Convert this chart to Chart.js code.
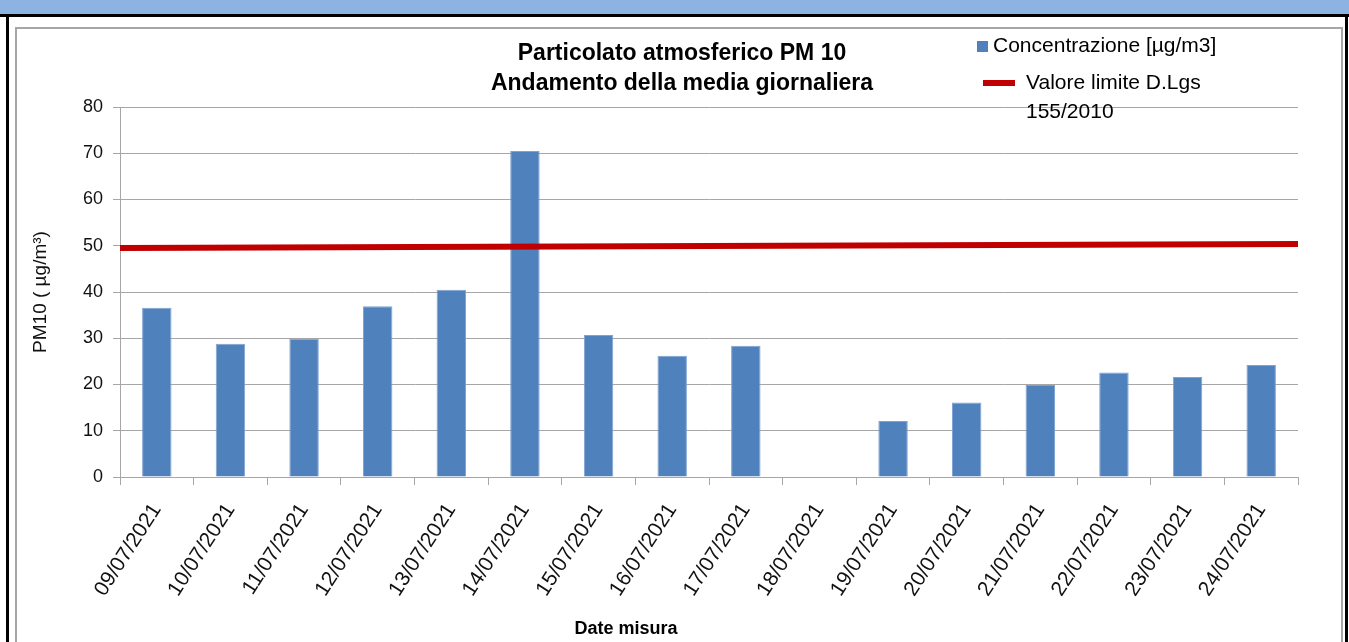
<!DOCTYPE html>
<html>
<head>
<meta charset="utf-8">
<script src="https://cdn.jsdelivr.net/npm/chart.js@4.4.1/dist/chart.umd.min.js"></script>
<style>
html, body { margin: 0; padding: 0; background: #fff; }
#frame { position: relative; width: 1349px; height: 642px; overflow: hidden; }
#topBand { position: absolute; left: 0; top: 0; width: 1349px; height: 14px; background: #8db3e2; }
#topRule { position: absolute; left: 0; top: 14px; width: 1349px; height: 3px; background: #000; }
#leftRule { position: absolute; left: 6px; top: 14px; width: 3px; height: 628px; background: #000; }
#rightRule { position: absolute; left: 1345px; top: 14px; width: 3px; height: 628px; background: #000; }
#box { position: absolute; left: 15px; top: 27px; width: 1328px; height: 640px; border: 2px solid #a6a6a6; box-sizing: border-box; }
#wrap { position: absolute; left: 0; top: 0; width: 1349px; height: 642px; }
</style>
</head>
<body>
<div id="frame">
  <div id="topBand"></div>
  <div id="topRule"></div>
  <div id="leftRule"></div>
  <div id="rightRule"></div>
  <div id="box"></div>
  <div id="wrap"><canvas id="pmChart"></canvas></div>
</div>
<script>
// data
const dates = ['09/07/2021', '10/07/2021', '11/07/2021', '12/07/2021', '13/07/2021', '14/07/2021',
  '15/07/2021', '16/07/2021', '17/07/2021', '18/07/2021', '19/07/2021', '20/07/2021',
  '21/07/2021', '22/07/2021', '23/07/2021', '24/07/2021'];
const pm10 = [36.6, 28.8, 29.9, 36.9, 40.5, 70.5, 30.7, 26.2, 28.4, null, 12.1, 16.1, 19.9, 22.6, 21.6, 24.2];
// limit line as drawn: value at the left and right edge of the plot
const limitLine = [49.5, 50.4];
const yMin = 0;
const yMax = 80;
const yStep = 10;

const seriesLabels = ['Concentrazione [µg/m3]', 'Valore limite D.Lgs 155/2010'];
const titleLines = ['Particolato atmosferico PM 10', 'Andamento della media giornaliera'];
const yTitle = 'PM10 ( µg/m³)';
const xTitle = 'Date misura';

const FONT = "'Liberation Sans', Arial, sans-serif";
const barColor = '#4f81bd';
const limitColor = '#c00000';
const gridColor = '#a6a6a6';

// title, legend and x title drawn by hand, like the original sheet
const overlay = {
  id: 'overlay',
  afterDraw(chart) {
    const ctx = chart.ctx;
    ctx.save();
    ctx.fillStyle = '#000';
    ctx.textBaseline = 'alphabetic';

    ctx.font = 'bold 23px ' + FONT;
    ctx.textAlign = 'center';
    ctx.fillText(titleLines[0], 682, 60);
    ctx.fillText(titleLines[1], 682, 90);

    ctx.font = 'bold 18px ' + FONT;
    ctx.fillText(xTitle, 626, 634);

    // legend
    ctx.textAlign = 'left';
    ctx.font = '21px ' + FONT;
    ctx.fillStyle = barColor;
    ctx.fillRect(977, 41, 11, 11);
    ctx.fillStyle = '#000';
    ctx.fillText(seriesLabels[0], 993, 52);

    ctx.strokeStyle = limitColor;
    ctx.lineWidth = 6;
    ctx.beginPath();
    ctx.moveTo(983, 83);
    ctx.lineTo(1015, 83);
    ctx.stroke();
    const words = seriesLabels[1].split(' ');
    ctx.fillText(words.slice(0, -1).join(' '), 1026, 89);
    ctx.fillText(words[words.length - 1], 1026, 118);
    ctx.restore();
  }
};

const ctx = document.getElementById('pmChart').getContext('2d');
const pmChart = new Chart(ctx, {
  type: 'bar',
  data: {
    labels: dates,
    datasets: [
      {
        type: 'line',
        label: seriesLabels[1],
        data: [{ x: 0, y: limitLine[0] }, { x: 1, y: limitLine[1] }],
        xAxisID: 'xLimit',
        borderColor: limitColor,
        borderWidth: 6,
        pointRadius: 0,
        fill: false,
        order: 0
      },
      {
        label: seriesLabels[0],
        data: pm10,
        backgroundColor: barColor,
        borderColor: '#7fa3d1',
        borderWidth: 1,
        grouped: false,
        barPercentage: 0.4,
        categoryPercentage: 1,
        order: 1
      }
    ]
  },
  options: {
    responsive: true,
    maintainAspectRatio: false,
    animation: false,
    layout: { padding: { left: 0, right: 51, top: 107, bottom: 0 } },
    plugins: {
      legend: { display: false },
      title: { display: false },
      tooltip: { enabled: false }
    },
    scales: {
      x: {
        grid: { offset: true, drawOnChartArea: false, drawTicks: true, tickLength: 8, color: gridColor },
        border: { color: gridColor },
        ticks: {
          autoSkip: false,
          minRotation: 57,
          maxRotation: 57,
          padding: 14,
          color: '#111',
          font: { family: FONT, size: 21 }
        },
        afterFit(scale) { scale.height = 165; }
      },
      xLimit: {
        type: 'linear',
        display: false,
        offset: false,
        grid: { offset: false },
        min: 0,
        max: 1
      },
      y: {
        min: yMin,
        max: yMax,
        ticks: {
          stepSize: yStep,
          padding: 10,
          color: '#111',
          font: { family: FONT, size: 18 }
        },
        grid: { color: gridColor, tickLength: 7 },
        border: { color: gridColor },
        title: {
          display: true,
          text: yTitle,
          color: '#111',
          font: { family: FONT, size: 19 },
          padding: { top: 29, bottom: 0 }
        },
        afterFit(scale) { scale.width = 120; }
      }
    }
  },
  plugins: [overlay]
});
</script>
</body>
</html>
